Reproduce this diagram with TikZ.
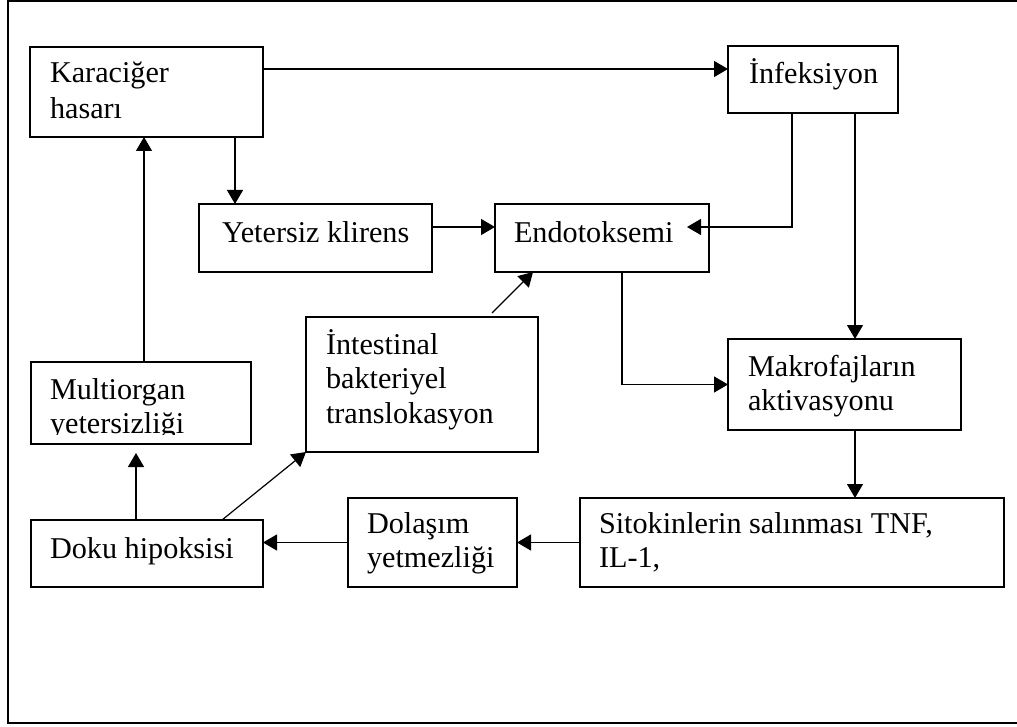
\documentclass[tikz,border=0pt]{standalone}
\usepackage{fontspec}
\setmainfont{Liberation Serif}
\usetikzlibrary{arrows.meta}
% fixed first-line height so every label's top sits a known distance above its baseline
\newcommand\topline{\rule{0pt}{28pt}}
\begin{document}
\begin{tikzpicture}[x=1pt,y=-1pt,
  box/.style={draw, rectangle, line width=1.2pt, inner sep=0pt, outer sep=0pt},
  lbl/.style={anchor=north west, inner sep=0pt, outer sep=0pt, align=left,
              font=\fontsize{30.2}{34.5}\selectfont},
  arr/.style={line width=1.2pt, -{Triangle[length=14pt,width=16pt]}}]
\useasboundingbox (0,0) rectangle (1017,727);
\fill[white] (0,0) rectangle (1017,727);
\clip (0,0) rectangle (1017,727);

% outer frame (runs past the right edge)
\draw[line width=1.4pt] (8,1) rectangle (1030,723);

% boxes
\node[box, minimum width=233pt, minimum height=90pt] (kar)  at (146.5,92)  {};
\node[box, minimum width=170pt, minimum height=67pt] (inf)  at (813,79.5)  {};
\node[box, minimum width=233pt, minimum height=68pt] (yet)  at (315.5,238) {};
\node[box, minimum width=214pt, minimum height=68pt] (endo) at (602,238)   {};
\node[box, minimum width=232pt, minimum height=135pt] (intb) at (422,384.5) {};
\node[box, minimum width=220pt, minimum height=82pt] (multi) at (141,403)  {};
\node[box, minimum width=233pt, minimum height=91pt] (makro) at (844.5,384.5) {};
\node[box, minimum width=232pt, minimum height=67pt] (doku) at (147,553.5) {};
\node[box, minimum width=169pt, minimum height=89pt] (dol)  at (432.5,542.5) {};
\node[box, minimum width=424pt, minimum height=89pt] (sito) at (792,542.5) {};

% labels
\node[lbl] (kar-t)  at (50,55)   {\topline Karaciğer\\[1.5pt]hasarı};
\node[lbl] (inf-t)  at (749,56)  {\topline İnfeksiyon};
\node[lbl] (yet-t)  at (222,215) {\topline Yetersiz klirens};
\node[lbl] (endo-t) at (514,215) {\topline Endotoksemi};
\node[lbl] (int-t)  at (326,326) {\topline İntestinal\\bakteriyel\\translokasyon};
\begin{scope}
  \clip (multi.north west) rectangle ([yshift=9.5pt]multi.south east);
  \node[lbl] (multi-t) at (50,371) {\topline Multiorgan\\yetersizliği};
\end{scope}
\node[lbl] (mak-t)  at (748,348) {\topline Makrofajların\\aktivasyonu};
\node[lbl] (dok-t)  at (50,530)  {\topline Doku hipoksisi};
\node[lbl] (dol-t)  at (367,505) {\topline Dolaşım\\yetmezliği};
\node[lbl] (sit-t)  at (599,505) {\topline Sitokinlerin salınması TNF,\\IL-1,};

% connectors
\draw[arr] ([yshift=23pt]kar.east) -- ([yshift=10.5pt]inf.west);
\draw[arr] ([xshift=88.5pt]kar.south) -- ([xshift=-80.5pt]yet.north);
\draw[arr] ([yshift=11pt]yet.east) -- ([yshift=11pt]endo.west);
\draw[arr] ([xshift=-21pt]inf.south) |- ([xshift=-22pt,yshift=11pt]endo.east);
\draw[arr] ([xshift=42pt]inf.south) -- ([xshift=10.5pt]makro.north);
\draw[arr] ([xshift=20pt]endo.south) |- (makro.west);
\draw[arr] ([xshift=10.5pt]makro.south) -- ([xshift=63pt]sito.north);
\draw[arr] (sito.west) -- (dol.east);
\draw[arr] (dol.west) -- (doku.east |- dol.west);
\draw[arr] ([xshift=-11pt]doku.north) -- ([xshift=-5pt,yshift=-9pt]multi.south);
\draw[arr] ([xshift=3pt]multi.north) -- ([xshift=-2.5pt]kar.south);
\draw[arr] ([xshift=75pt]doku.north) -- (intb.south west);
\draw[arr] ([xshift=70pt,yshift=4pt]intb.north) -- ([xshift=-69pt]endo.south);
\end{tikzpicture}
\end{document}
